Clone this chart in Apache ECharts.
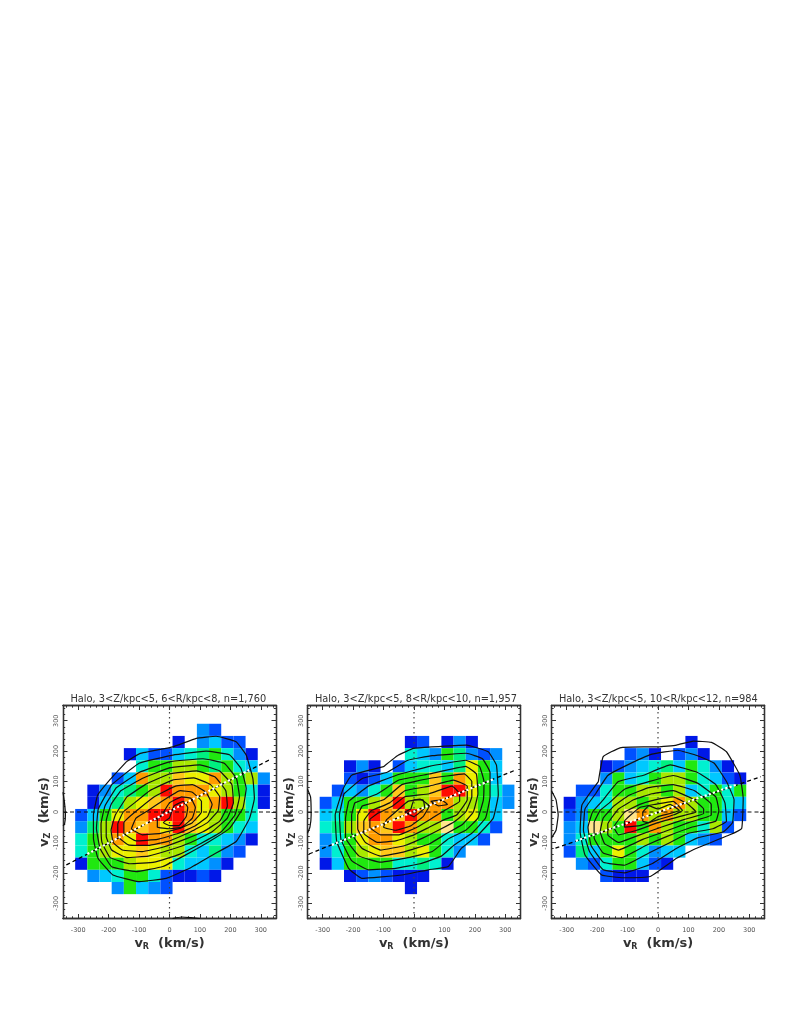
<!DOCTYPE html>
<html>
<head>
<meta charset="utf-8">
<script src="https://cdn.jsdelivr.net/npm/echarts@6/dist/echarts.min.js"></script>
<style>
html,body{margin:0;padding:0;background:#fff}
#main{width:799px;height:1034px;filter:blur(0.5px)}
</style>
</head>
<body>
<div id="main"></div>
<script>
var _ = null;
var titles = ['Halo, 3<Z/kpc<5, 6<R/kpc<8, n=1,760', 'Halo, 3<Z/kpc<5, 8<R/kpc<10, n=1,957', 'Halo, 3<Z/kpc<5, 10<R/kpc<12, n=984'];
var majorTicks = [-300, -200, -100, 0, 100, 200, 300];
var minorTicks = [-340, -320, -280, -260, -240, -220, -180, -160, -140, -120, -80, -60, -40, -20, 20, 40, 60, 80, 120, 140, 160, 180, 220, 240, 260, 280, 320, 340];
// bin centres, 40 km/s wide
var binX = [-290, -250, -210, -170, -130, -90, -50, -10, 30, 70, 110, 150, 190, 230, 270, 310];
var binY = [270, 230, 190, 150, 110, 70, 30, -10, -50, -90, -130, -170, -210, -250];
// colour steps, low to high
var palette = ['#0018e8', '#0050ff', '#0090ff', '#00c8ff', '#00f0d0', '#00f080', '#20e810', '#a8e800', '#ecf000', '#ffe68c', '#ffc81a', '#ff9c00', '#ff0a00'];

var panel1Levels = [
  [_, _, _, _, _, _, _, _, _, _, 2, 1, _, _, _, _],
  [_, _, _, _, _, _, _, _, 0, _, 2, 3, 1, 1, _, _],
  [_, _, _, _, 0, 3, 1, 1, 3, 4, 5, 6, 4, 2, 0, _],
  [_, _, _, _, _, 4, 6, 6, 7, 7, 6, 5, 6, 4, 3, _],
  [_, _, _, 1, 3, 11, 7, 7, 10, 8, 8, 11, 7, 6, 7, 2],
  [_, 0, 2, 4, 5, 6, 7, 12, 11, 11, 11, 8, 7, 6, 4, 0],
  [_, 0, 3, 5, 7, 8, 10, 11, 12, 11, 8, 11, 12, 7, 4, 0],
  [1, 3, 6, 8, 11, 11, 12, 12, 12, 11, 8, 7, 6, 6, 4, _],
  [2, 5, 7, 12, 11, 10, 11, 8, 12, 10, 8, 7, 6, 4, 3, _],
  [4, 6, 7, 11, 8, 12, 11, 11, 7, 6, 4, 4, 3, 2, 0, _],
  [4, 6, 7, 8, 8, 10, 8, 7, 7, 4, 3, 5, 2, 1, _, _],
  [0, 6, 6, 6, 7, 8, 8, 8, 4, 3, 3, 2, 0, _, _, _],
  [_, 2, 3, 4, 6, 6, 4, 1, 0, 0, 1, 0, _, _, _, _],
  [_, _, _, 2, 6, 3, 2, 1, _, _, _, _, _, _, _, _]
];
var panel2Levels = [
  [_, _, _, _, _, _, _, _, _, _, _, _, _, _, _, _],
  [_, _, _, _, _, _, _, 0, 1, _, 0, 2, 0, _, _, _],
  [_, _, _, _, _, _, _, 4, 3, 2, 6, 5, 2, 1, 2, _],
  [_, _, 0, 2, 0, _, 1, 3, 4, 4, 3, 5, 8, 6, 3, _],
  [_, _, 1, 0, 1, 3, 6, 6, 6, 10, 6, 11, 8, 6, 3, _],
  [_, 1, 3, 2, 4, 6, 10, 6, 7, 10, 12, 12, 8, 6, 4, 2],
  [1, 3, 6, 6, 7, 10, 12, 7, 7, 11, 11, 7, 7, 6, 3, 2],
  [3, 4, 6, 8, 12, 11, 10, 12, 11, 11, 6, 7, 8, 6, 3, _],
  [4, 5, 7, 10, 11, 10, 12, 11, 7, 7, 9, 6, 6, 4, 1, _],
  [2, 4, 6, 8, 11, 11, 8, 7, 6, 6, 4, 3, 3, 1, _, _],
  [2, 4, 6, 7, 8, 10, 10, 7, 8, 6, 4, 2, _, _, _, _],
  [0, 3, 6, 6, 6, 6, 4, 4, 5, 4, 0, _, _, _, _, _],
  [_, _, 0, 1, 2, 1, 0, 0, 0, _, _, _, _, _, _, _],
  [_, _, _, _, _, _, _, 0, _, _, _, _, _, _, _, _]
];
var panel3Levels = [
  [_, _, _, _, _, _, _, _, _, _, _, _, _, _, _, _],
  [_, _, _, _, _, _, _, _, _, _, 0, _, _, _, _, _],
  [_, _, _, _, _, 1, 2, 0, _, 1, 2, 0, _, _, _, _],
  [_, _, _, 0, 1, 2, 3, 4, 5, 3, 6, 4, 2, 0, _, _],
  [_, _, _, 2, 6, 3, 4, 6, 7, 7, 6, 4, 3, 1, 0, _],
  [_, 1, 1, 4, 6, 6, 7, 7, 6, 7, 3, 4, 6, 4, 6, _],
  [0, 2, 3, 4, 7, 7, 6, 7, 8, 11, 7, 6, 6, 4, 3, _],
  [1, 2, 6, 6, 7, 9, 11, 7, 11, 7, 7, 6, 6, 3, 1, _],
  [2, 3, 9, 7, 6, 12, 6, 11, 7, 6, 6, 4, 7, 1, _, _],
  [2, 4, 6, 6, 6, 6, 7, 6, 7, 6, 3, 2, 1, _, _, _],
  [1, 5, 3, 6, 8, 6, 4, 2, 3, 3, _, _, _, _, _, _],
  [_, 2, 1, 4, 6, 6, 3, 1, 0, _, _, _, _, _, _, _],
  [_, _, _, 1, 0, 0, 0, _, _, _, _, _, _, _, _, _],
  [_, _, _, _, _, _, _, _, _, _, _, _, _, _, _, _]
];

var panel1Contours = [
  [[-142,165],[-98,192],[11,214],[88,242],[153,249],[219,231],[252,187],[274,110],[279,45],[263,-21],[219,-97],[142,-141],[66,-185],[-11,-218],[-98,-229],[-186,-207],[-235,-152],[-250,-86],[-250,-10],[-236,56],[-197,105],[-142,165]],
  [[-190,90],[-100,160],[11,187],[120,200],[197,188],[235,143],[252,77],[241,12],[197,-54],[131,-97],[55,-140],[-22,-179],[-110,-196],[-190,-180],[-228,-120],[-240,-54],[-234,10],[-190,90]],
  [[-175,80],[-100,130],[0,165],[110,175],[180,160],[220,110],[230,50],[215,-10],[170,-65],[100,-105],[30,-140],[-50,-165],[-130,-170],[-195,-150],[-222,-100],[-225,-40],[-212,20],[-175,80]],
  [[-160,70],[-90,110],[0,145],[100,155],[165,135],[205,90],[210,30],[190,-20],[140,-65],[70,-100],[0,-125],[-70,-145],[-140,-150],[-190,-125],[-208,-80],[-208,-30],[-192,25],[-160,70]],
  [[-140,50],[-80,90],[0,125],[90,135],[150,115],[185,70],[190,20],[165,-30],[110,-65],[50,-90],[-20,-115],[-90,-130],[-155,-125],[-185,-100],[-192,-60],[-178,-10],[-140,50]],
  [[-115,30],[-65,70],[10,105],[80,112],[135,90],[165,50],[160,5],[125,-35],[70,-65],[0,-95],[-70,-110],[-135,-108],[-170,-80],[-170,-40],[-152,0],[-115,30]],
  [[-95,15],[-50,50],[20,85],[75,90],[120,65],[140,25],[125,-15],[85,-45],[30,-70],[-40,-90],[-110,-95],[-150,-70],[-150,-35],[-95,15]],
  [[-70,5],[-25,35],[35,70],[75,65],[105,35],[105,0],[75,-35],[30,-55],[-30,-70],[-90,-75],[-125,-55],[-110,-20],[-70,5]],
  [[-25,-10],[0,30],[40,50],[70,45],[85,15],[75,-20],[40,-50],[0,-55],[-40,-50],[-40,-25],[-25,-10]],
  [[0,-20],[15,20],[45,35],[60,15],[55,-15],[30,-45],[0,-45],[-20,-35],[0,-20]],
  [[-350,65],[-345,30],[-342,-10],[-345,-40],[-350,-45]],
  [[10,-350],[40,-345],[70,-347],[100,-350]]
];
var panel2Contours = [
  [[-100,149],[-51,187],[-2,209],[58,214],[173,220],[244,198],[271,154],[277,56],[260,-21],[211,-75],[156,-119],[113,-179],[47,-190],[-40,-207],[-172,-218],[-215,-185],[-254,-97],[-259,-10],[-232,78],[-205,121],[-100,149]],
  [[-230,60],[-170,110],[-90,130],[-20,170],[60,185],[172,193],[225,175],[250,130],[250,50],[235,-20],[190,-70],[130,-110],[90,-145],[20,-170],[-60,-185],[-150,-190],[-205,-160],[-240,-90],[-245,-10],[-230,60]],
  [[-215,35],[-150,85],[-60,120],[50,150],[170,170],[215,150],[230,100],[228,40],[210,-20],[170,-60],[110,-90],[60,-130],[-20,-150],[-110,-165],[-180,-145],[-225,-85],[-225,-20],[-215,35]],
  [[-195,30],[-120,60],[-50,105],[50,125],[170,150],[205,125],[210,60],[195,0],[160,-40],[100,-75],[50,-105],[-30,-130],[-110,-145],[-170,-120],[-205,-70],[-205,-10],[-195,30]],
  [[-170,20],[-100,40],[-40,90],[50,110],[165,125],[190,100],[190,50],[170,0],[135,-30],[80,-60],[30,-85],[-30,-110],[-110,-125],[-160,-100],[-185,-55],[-185,-10],[-170,20]],
  [[-140,5],[-80,30],[-30,70],[50,85],[130,105],[175,85],[175,40],[140,-10],[100,-25],[50,-50],[0,-75],[-60,-95],[-120,-100],[-165,-70],[-165,-30],[-140,5]],
  [[-120,-5],[-70,20],[-30,50],[50,60],[125,85],[150,60],[150,35],[100,5],[60,-20],[10,-50],[-50,-75],[-110,-75],[-145,-50],[-145,-25],[-120,-5]],
  [[-90,-25],[-55,5],[-20,35],[20,42],[50,20],[30,-15],[-10,-45],[-60,-60],[-100,-50],[-90,-25]],
  [[-10,10],[0,40],[30,40],[35,15],[0,-15],[-30,0],[-10,10]],
  [[55,35],[90,40],[110,25],[80,20],[55,35]],
  [[-350,75],[-340,50],[-338,-10],[-342,-50],[-350,-70]]
];
var panel3Contours = [
  [[-196,100],[-180,182],[-125,211],[-48,214],[1,214],[61,220],[116,233],[176,229],[225,198],[269,121],[280,45],[275,-54],[236,-75],[127,-119],[61,-152],[-26,-212],[-114,-216],[-185,-207],[-240,-141],[-256,-65],[-250,23],[-196,100]],
  [[-205,60],[-165,120],[-110,150],[-20,190],[65,203],[130,185],[185,160],[225,100],[250,40],[245,-35],[215,-65],[130,-85],[60,-120],[-20,-170],[-110,-200],[-180,-190],[-225,-130],[-245,-60],[-240,10],[-205,60]],
  [[-180,40],[-130,100],[-50,120],[40,155],[130,130],[190,90],[220,30],[225,-30],[180,-55],[100,-70],[40,-100],[-30,-135],[-110,-175],[-180,-165],[-220,-110],[-230,-50],[-215,0],[-180,40]],
  [[-160,30],[-110,75],[-30,100],[50,120],[130,95],[190,50],[200,5],[190,-30],[110,-50],[30,-80],[-40,-110],[-120,-150],[-180,-135],[-210,-85],[-210,-35],[-190,5],[-160,30]],
  [[-145,20],[-95,55],[-30,80],[50,90],[120,70],[175,25],[175,-10],[100,-35],[20,-65],[-50,-90],[-130,-125],[-175,-105],[-190,-65],[-180,-20],[-145,20]],
  [[-130,10],[-80,40],[-20,60],[50,70],[110,45],[150,10],[150,-5],[85,-25],[10,-50],[-60,-75],[-130,-100],[-165,-75],[-165,-40],[-130,10]],
  [[-110,0],[-60,25],[-10,40],[50,50],[100,25],[125,0],[70,-15],[0,-35],[-70,-60],[-130,-75],[-145,-50],[-110,0]],
  [[-90,-10],[-60,15],[-10,25],[50,35],[80,5],[50,-10],[0,-25],[-60,-45],[-110,-50],[-110,-30],[-90,-10]],
  [[-50,0],[-30,20],[0,10],[40,25],[70,5],[40,-5],[0,-15],[-30,-35],[-50,-30],[-50,0]],
  [[-350,70],[-335,40],[-328,-10],[-335,-60],[-350,-85]]
];
var fitLines = [
  [[-339,-174],[328,171]],
  [[-345,-138],[334,138]],
  [[-337,-119],[338,116]]
];
// part of the fit line that lies over the bins, drawn white
var fitWhite = [
  [[-270,-138],[262,138]],
  [[-270,-108],[262,108]],
  [[-270,-95],[262,91]]
];
var zeroH = [[-350,0],[350,0]];
var zeroV = [[0,-350],[0,350]];

var levels = [panel1Levels, panel2Levels, panel3Levels];
var contours = [panel1Contours, panel2Contours, panel3Contours];
var lefts = [63, 307.5, 551.5];
var gridTop = 705.5, gridSize = 213;
var inkColor = '#333';

function cellsOf(rows) {
  var out = [];
  rows.forEach(function (row, j) {
    row.forEach(function (lv, i) {
      if (lv !== null) out.push([binX[i], binY[j], lv]);
    });
  });
  return out;
}

function renderCell(params, api) {
  var x = api.value(0), y = api.value(1);
  var p0 = api.coord([x - 20, y + 20]);
  var p1 = api.coord([x + 20, y - 20]);
  return {
    type: 'rect',
    shape: {x: p0[0], y: p0[1], width: p1[0] - p0[0], height: p1[1] - p0[1]},
    style: {fill: palette[api.value(2)], stroke: null}
  };
}

function makeAxis(gridIndex, position, values, len, withLabel, isX) {
  var axis = {
    type: 'value', gridIndex: gridIndex, position: position,
    min: -350, max: 350, splitLine: {show: false},
    axisLine: {show: true, onZero: false, lineStyle: {color: inkColor, width: 1.3}},
    axisTick: {show: true, inside: true, length: len, customValues: values, lineStyle: {color: inkColor, width: 1}},
    axisLabel: {show: false}
  };
  if (withLabel) {
    axis.axisLabel = {
      show: true, customValues: majorTicks, fontFamily: 'DejaVu Sans', fontSize: 6.5,
      color: '#555', margin: isX ? 8 : 3, rotate: isX ? 0 : 90, hideOverlap: false, showMinLabel: true, showMaxLabel: true
    };
    axis.nameLocation = 'middle';
    axis.nameGap = isX ? 18 : 10;
    axis.name = isX ? '{v|v}{s|R}{v|  (km/s)}' : '{v|v}{s|Z}{v|  (km/s)}';
    axis.nameTextStyle = {
      rich: {
        v: {fontFamily: 'DejaVu Sans', fontSize: 13, fontWeight: 'bold', color: '#333'},
        s: {fontFamily: 'DejaVu Sans', fontSize: 8, fontWeight: 'bold', color: '#333', verticalAlign: 'bottom', padding: [6, 0, 0, 0]}
      }
    };
  }
  return axis;
}

var grids = [], xAxes = [], yAxes = [], series = [], titleList = [];
lefts.forEach(function (left, p) {
  // grid 2p carries major ticks and the marks, grid 2p+1 only the minor ticks
  var g = 2 * p;
  grids.push({left: left, top: gridTop, width: gridSize, height: gridSize, containLabel: false});
  grids.push({left: left, top: gridTop, width: gridSize, height: gridSize, containLabel: false});
  xAxes.push(makeAxis(g, 'bottom', majorTicks, 4.5, true, true), makeAxis(g, 'top', majorTicks, 4.5, false, true),
    makeAxis(g + 1, 'bottom', minorTicks, 2.2, false, true), makeAxis(g + 1, 'top', minorTicks, 2.2, false, true));
  yAxes.push(makeAxis(g, 'left', majorTicks, 4.5, true, false), makeAxis(g, 'right', majorTicks, 4.5, false, false),
    makeAxis(g + 1, 'left', minorTicks, 2.2, false, false), makeAxis(g + 1, 'right', minorTicks, 2.2, false, false));
  var xi = 4 * p, yi = 4 * p;
  titleList.push({
    text: titles[p], left: left + 2.5, top: 689, textAlign: 'left', padding: 5,
    textStyle: {fontFamily: 'DejaVu Sans', fontSize: 9.8, fontWeight: 'normal', color: '#333'}
  });
  series.push({
    type: 'custom', xAxisIndex: xi, yAxisIndex: yi, renderItem: renderCell,
    data: cellsOf(levels[p]), silent: true, z: 1
  });
  var lineBase = {type: 'line', xAxisIndex: xi, yAxisIndex: yi, showSymbol: false, silent: true, animation: false, clip: true};
  contours[p].forEach(function (c) {
    series.push(Object.assign({}, lineBase, {data: c, smooth: 0.1, z: 3, lineStyle: {color: '#111', width: 1.2}}));
  });
  series.push(Object.assign({}, lineBase, {data: zeroH, z: 2, lineStyle: {color: '#111', width: 1, type: [4, 3]}}));
  series.push(Object.assign({}, lineBase, {data: zeroV, z: 2, lineStyle: {color: '#444', width: 1.2, type: [1.5, 3.5]}}));
  series.push(Object.assign({}, lineBase, {data: fitLines[p], z: 4, lineStyle: {color: '#000', width: 1.3, type: [4, 3]}}));
  series.push(Object.assign({}, lineBase, {data: fitWhite[p], z: 5, lineStyle: {color: '#fff', width: 2.2, type: [2.2, 2.2]}}));
});

var chart = echarts.init(document.getElementById('main'), null, {renderer: 'canvas'});
chart.setOption({
  animation: false,
  backgroundColor: '#fff',
  title: titleList,
  grid: grids,
  xAxis: xAxes,
  yAxis: yAxes,
  series: series
});
</script>
</body>
</html>
